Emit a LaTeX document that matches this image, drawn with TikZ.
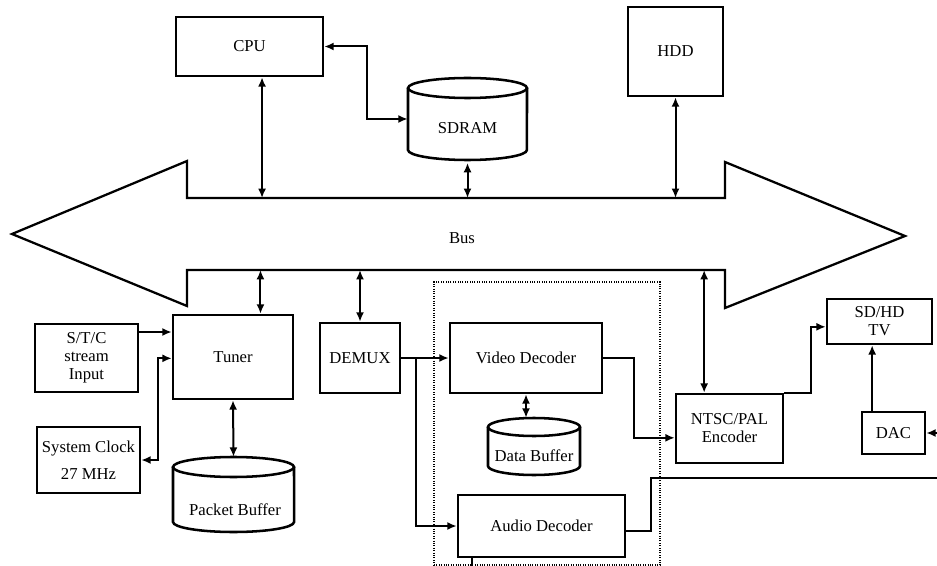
\documentclass[tikz,border=0pt]{standalone}
\usepackage{fontspec}
\setmainfont{Liberation Serif}
\usetikzlibrary{arrows.meta,calc}
\begin{document}
\begin{tikzpicture}[x=0.75pt,y=-0.75pt,
  every node/.style={font=\fontsize{12.5}{13.5}\selectfont},
  box/.style={draw,line width=1.9pt,align=center,inner sep=0pt},
  sz/.style 2 args={minimum width=#1*0.75pt,minimum height=#2*0.75pt},
  conn/.style={line width=1.5pt},
  cyl/.style={line width=1.9pt},
  >={Latex[length=7pt,width=6pt]}]
\useasboundingbox (0,0) rectangle (937,566);

% decoder group (dotted)
\node[draw,densely dotted,line width=0.8pt,sz={226}{283}] (dec) at (547,423.5) {};

% bus
\draw[line width=1.7pt,line join=miter] (12,234) -- (187,161) -- (187,198) -- (725,198) -- (725,162) -- (905,236) -- (725,308) -- (725,270) -- (187,270) -- (187,306) -- cycle;
\node (bus) at (462,238) {Bus};
\coordinate (busT) at (462,198);
\coordinate (busB) at (462,270);

% boxes
\node[box,sz={147}{59}] (cpu) at (249.5,46.5) {CPU};
\node[box,sz={95}{89}] (hdd) at (675.5,51.5) {HDD};
\node[box,sz={120}{84}] (tuner) at (233,357) {Tuner};
\node[box,sz={103}{68}] (stc) at (86.5,358) {S/T/C\\stream\\Input};
\node[box,sz={103}{66},font=\fontsize{12.5}{20}\selectfont] (clk) at (88.5,460) {System Clock\\27 MHz};
\node[box,sz={80}{70}] (demux) at (360,358) {DEMUX};
\node[box,sz={152}{70}] (video) at (526,358) {Video Decoder};
\node[box,sz={167}{62}] (audio) at (541.5,526) {Audio Decoder};
\node[box,sz={107}{69}] (ntsc) at (729.5,428.5) {NTSC/PAL\\Encoder};
\node[box,sz={105}{45}] (tv) at (879.5,321.5) {SD/HD\\TV};
\node[box,sz={63}{42}] (dac) at (893.5,433) {DAC};

% cylinders
\node[sz={119}{82},inner sep=0pt] (sdram) at (467.5,119) {};
\draw[cyl] (408,88) -- (408,150) arc[start angle=180,end angle=360,x radius=44.6pt,y radius=7.5pt] -- (527,88);
\draw[cyl] (467.5,88) ellipse[x radius=44.6pt,y radius=7.5pt];
\node (sdramt) at (467.5,128) {SDRAM};

\node[sz={121}{75},inner sep=0pt] (pb) at (233.5,494.5) {};
\draw[cyl] (173,467) -- (173,522) arc[start angle=180,end angle=360,x radius=45.4pt,y radius=7.5pt] -- (294,467);
\draw[cyl] (233.5,467) ellipse[x radius=45.4pt,y radius=7.5pt];
\node (pbt) at (235,510) {Packet Buffer};

\node[sz={92}{57},inner sep=0pt] (db) at (534,446.5) {};
\draw[cyl] (488,427) -- (488,466) arc[start angle=180,end angle=360,x radius=34.5pt,y radius=6.75pt] -- (580,427);
\draw[cyl] (534,427) ellipse[x radius=34.5pt,y radius=6.75pt];
\node (dbt) at (534,456) {Data Buffer};

% connectors to bus
\coordinate (c1) at ([xshift=9.4pt]cpu.south);
\draw[conn,<->] (c1) -- (c1 |- busT);
\draw[conn,<->,shorten <=2pt] (sdram.south) -- (sdram.south |- busT);
\draw[conn,<->] (hdd.south) -- (hdd.south |- busT);
\coordinate (t1) at ([xshift=20.6pt]tuner.north);
\draw[conn,<->] (t1) -- (t1 |- busB);
\draw[conn,<->] (demux.north) -- (demux.north |- busB);
\coordinate (n1) at ([xshift=-19pt]ntsc.north);
\draw[conn,<->] (n1) -- (n1 |- busB);

% other connectors
\draw[conn,<->] (cpu.east) -- ++(43,0) |- (sdram.west);
\coordinate (s1) at ([yshift=19.5pt]stc.east);
\draw[conn,->] (s1) -- (s1 -| tuner.west);
\draw[conn,<->] (clk.east) -- ++(17,0) |- ([yshift=-1pt]tuner.west);
\draw[conn,<->] (tuner.south) -- (pb.north);
\draw[conn,->] (demux.east) -- (video.west);
\draw[conn,->] ([xshift=11.25pt]demux.east) |- (audio.west);
\draw[conn,<->] (video.south) -- (video.south |- db.north);
\draw[conn,->] (video.east) -- ++(31,0) |- ([yshift=-7pt]ntsc.west);
\draw[conn,->] (ntsc.north east) -- ++(27,0) |- ([yshift=-4pt]tv.west);
\coordinate (d1) at ([xshift=-16pt]dac.north);
\draw[conn,->] (d1) -- (d1 |- tv.south);
\coordinate (dacin) at (937,433);
\draw[conn,->] (dacin) -- (dac.east);
\coordinate (outR) at (937,478);
\draw[conn] ([yshift=-4pt]audio.east) -- ++(25,0) |- (outR);
\draw[conn] ([xshift=-52pt]audio.south) -- ++(0,8);
\end{tikzpicture}
\end{document}
